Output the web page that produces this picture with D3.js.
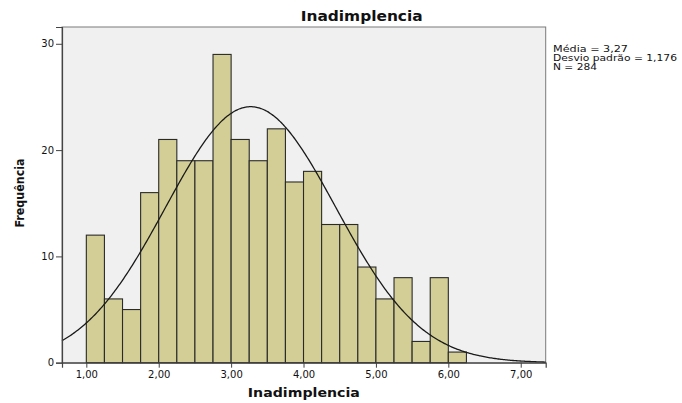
<!DOCTYPE html>
<html>
<head>
<meta charset="utf-8">
<script src="https://cdn.jsdelivr.net/npm/d3@7/dist/d3.min.js"></script>
<style>
  html, body { margin: 0; padding: 0; background: #ffffff; }
  svg { display: block; }
  text { font-family: "DejaVu Sans", Verdana, sans-serif; fill: #111; }
</style>
</head>
<body>
<svg id="chart" width="682" height="403"></svg>
<script>
// Histogram bins of Inadimplencia (width 0.25, starting at 1.00)
const binStarts = [1.00, 1.25, 1.50, 1.75, 2.00, 2.25, 2.50, 2.75, 3.00, 3.25, 3.50,
                   3.75, 4.00, 4.25, 4.50, 4.75, 5.00, 5.25, 5.50, 5.75, 6.00];
const frequencies = [12, 6, 5, 16, 21, 19, 19, 29, 21, 19, 22,
                     17, 18, 13, 13, 9, 6, 8, 2, 8, 1];
const binWidth = 0.25;

// Summary statistics shown beside the plot
const mean = 3.27;
const stdDev = 1.176;
const nObs = 284;
const statLines = ["Média = 3,27", "Desvio padrão = 1,176", "N = 284"];
const statWidths = [75, 124, 44];

const xTicks = [1, 2, 3, 4, 5, 6, 7];
const yTicks = [0, 10, 20, 30];

const svg = d3.select("#chart");
const plot = { left: 62, right: 545.7, top: 27, bottom: 362.7 };

const x = d3.scaleLinear().domain([0.664, 7.345]).range([plot.left, plot.right]);
const y = d3.scaleLinear().domain([0, 31.58]).range([plot.bottom, plot.top]);

const fmtComma = d => d3.format(".2f")(d).replace(".", ",");

// plot background
svg.append("rect")
  .attr("x", plot.left).attr("y", plot.top)
  .attr("width", plot.right - plot.left).attr("height", plot.bottom - plot.top)
  .attr("fill", "#f0f0f0")
  .attr("stroke", "#7a7a7a").attr("stroke-width", 1);

// bars
svg.append("g").selectAll("rect")
  .data(binStarts.map((s, i) => ({ s, f: frequencies[i] })))
  .join("rect")
  .attr("x", d => x(d.s))
  .attr("y", d => y(d.f))
  .attr("width", d => x(d.s + binWidth) - x(d.s))
  .attr("height", d => y(0) - y(d.f))
  .attr("fill", "#d3ce96")
  .attr("stroke", "#2a2a2a")
  .attr("stroke-width", 1.1);

// fitted normal curve scaled to counts per bin
const scaleFactor = nObs * binWidth / (stdDev * Math.sqrt(2 * Math.PI));
const normal = v => scaleFactor * Math.exp(-0.5 * Math.pow((v - mean) / stdDev, 2));
const curvePts = d3.range(0, 401).map(i => {
  const v = x.domain()[0] + (x.domain()[1] - x.domain()[0]) * i / 400;
  return [v, normal(v)];
});
svg.append("path")
  .datum(curvePts)
  .attr("fill", "none")
  .attr("stroke", "#1a1a1a")
  .attr("stroke-width", 1.3)
  .attr("d", d3.line().x(d => x(d[0])).y(d => y(d[1])).curve(d3.curveBasis));

// axes
const xAxis = svg.append("g")
  .attr("transform", `translate(0,${plot.bottom})`)
  .call(d3.axisBottom(x).tickValues(xTicks).tickFormat(fmtComma).tickSize(5).tickPadding(3));
const yAxis = svg.append("g")
  .attr("transform", `translate(${plot.left},0)`)
  .call(d3.axisLeft(y).tickValues(yTicks).tickFormat(d3.format("d")).tickSize(6).tickPadding(2));

[xAxis, yAxis].forEach(g => {
  g.select(".domain").attr("stroke", "#444").attr("stroke-width", 1.2);
  g.selectAll(".tick line").attr("stroke", "#444");
  g.selectAll(".tick text")
    .attr("fill", "#333")
    .style("font-family", "'DejaVu Sans', Verdana, sans-serif")
    .style("font-size", "10px");
});

// title
svg.append("text")
  .attr("x", 361.7).attr("y", 21)
  .attr("text-anchor", "middle")
  .attr("textLength", 122).attr("lengthAdjust", "spacingAndGlyphs")
  .style("font-weight", "bold").style("font-size", "13.5px")
  .text("Inadimplencia");

// axis titles
svg.append("text")
  .attr("x", (plot.left + plot.right) / 2).attr("y", 397)
  .attr("text-anchor", "middle")
  .attr("textLength", 112).attr("lengthAdjust", "spacingAndGlyphs")
  .style("font-weight", "bold").style("font-size", "12.5px")
  .text("Inadimplencia");

svg.append("text")
  .attr("transform", "translate(24,193) rotate(-90)")
  .attr("text-anchor", "middle")
  .attr("textLength", 69).attr("lengthAdjust", "spacingAndGlyphs")
  .style("font-weight", "bold").style("font-size", "12.5px")
  .text("Frequência");

// statistics box
svg.append("g").selectAll("text")
  .data(statLines)
  .join("text")
  .attr("x", 553)
  .attr("y", (d, i) => 52 + i * 9.2)
  .attr("textLength", (d, i) => statWidths[i])
  .attr("lengthAdjust", "spacingAndGlyphs")
  .style("font-size", "8.8px")
  .text(d => d);
</script>
</body>
</html>
